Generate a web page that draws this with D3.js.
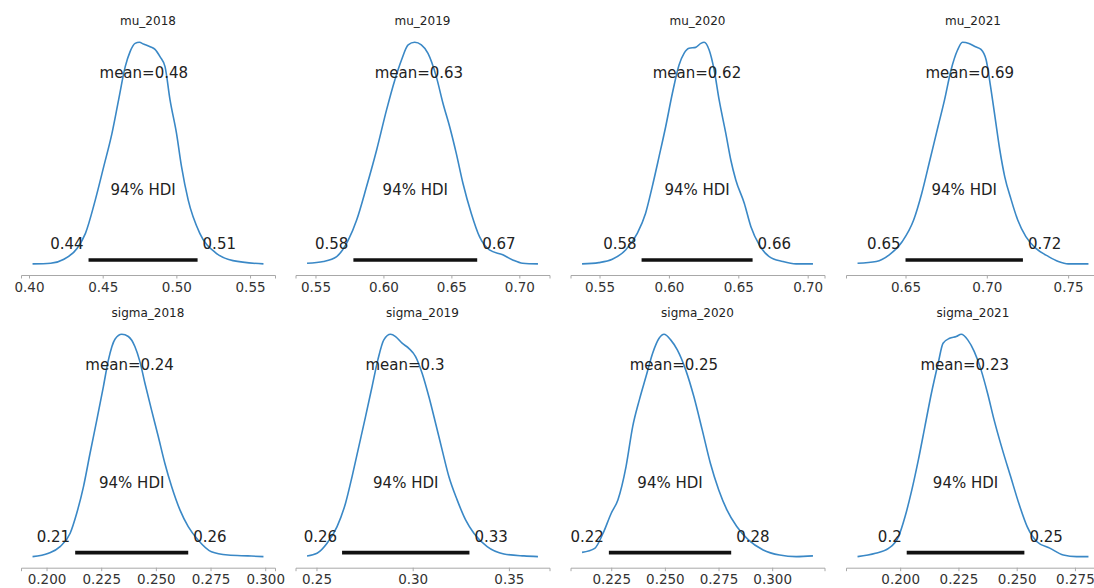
<!DOCTYPE html>
<html><head><meta charset="utf-8">
<script src="https://cdn.jsdelivr.net/npm/d3@7"></script>
<style>
html,body{margin:0;padding:0;background:#fff;}
svg{display:block;font-family:"DejaVu Sans",sans-serif;}
</style></head>
<body><svg id="chart" width="1094" height="588"></svg>
<script>
// ---- data ----
const titles = ["mu_2018","mu_2019","mu_2020","mu_2021","sigma_2018","sigma_2019","sigma_2020","sigma_2021"];
const meanLabels = ["mean=0.48","mean=0.63","mean=0.62","mean=0.69","mean=0.24","mean=0.3","mean=0.25","mean=0.23"];
const meanValues = [0.4779,0.6261,0.6202,0.6895,0.2380,0.2960,0.2542,0.2277];
const hdiLow  = [0.4404,0.5779,0.5803,0.6500,0.2131,0.2633,0.2239,0.2028];
const hdiHigh = [0.5144,0.6690,0.6603,0.7222,0.2648,0.3295,0.2809,0.2533];
const hdiLowLabels  = ["0.44","0.58","0.58","0.65","0.21","0.26","0.22","0.2"];
const hdiHighLabels = ["0.51","0.67","0.66","0.72","0.26","0.33","0.28","0.25"];
const tickValues = [
  [0.40,0.45,0.50,0.55],
  [0.55,0.60,0.65,0.70],
  [0.55,0.60,0.65,0.70],
  [0.65,0.70,0.75],
  [0.200,0.225,0.250,0.275,0.300],
  [0.25,0.30,0.35],
  [0.225,0.250,0.275,0.300],
  [0.200,0.225,0.250,0.275]
];
const tickLabels = [
  ["0.40","0.45","0.50","0.55"],
  ["0.55","0.60","0.65","0.70"],
  ["0.55","0.60","0.65","0.70"],
  ["0.65","0.70","0.75"],
  ["0.200","0.225","0.250","0.275","0.300"],
  ["0.25","0.30","0.35"],
  ["0.225","0.250","0.275","0.300"],
  ["0.200","0.225","0.250","0.275"]
];
// posterior density curves: [value, density relative to peak]
const kdeMu2018 = [[0.4024,0.0],[0.4147,0.003],[0.4237,0.021],[0.4327,0.071],[0.4383,0.138],[0.4450,0.289],[0.4507,0.439],[0.4563,0.589],[0.4608,0.740],[0.4653,0.890],[0.4686,0.958],[0.4720,0.995],[0.4749,1.0],[0.4777,0.992],[0.4822,0.980],[0.4855,0.968],[0.4889,0.935],[0.4923,0.890],[0.4957,0.740],[0.5001,0.589],[0.5035,0.439],[0.5080,0.289],[0.5159,0.138],[0.5271,0.048],[0.5384,0.015],[0.5591,0.0]];
const kdeMu2019 = [[0.5438,0.003],[0.5559,0.011],[0.5656,0.033],[0.5742,0.108],[0.5803,0.198],[0.5876,0.349],[0.5950,0.514],[0.6023,0.695],[0.6084,0.830],[0.6133,0.920],[0.6182,0.988],[0.6230,1.0],[0.6279,0.988],[0.6328,0.950],[0.6389,0.845],[0.6438,0.725],[0.6487,0.620],[0.6536,0.499],[0.6585,0.364],[0.6646,0.229],[0.6707,0.123],[0.6780,0.063],[0.6878,0.041],[0.6951,0.018],[0.7024,0.003],[0.7137,0.0]];
const kdeMu2020 = [[0.5374,0.0],[0.5495,0.006],[0.5592,0.021],[0.5688,0.063],[0.5772,0.138],[0.5832,0.229],[0.5880,0.349],[0.5929,0.484],[0.5977,0.620],[0.6025,0.770],[0.6073,0.898],[0.6109,0.950],[0.6145,0.973],[0.6193,0.977],[0.6230,0.995],[0.6254,1.0],[0.6290,0.965],[0.6326,0.875],[0.6362,0.740],[0.6410,0.589],[0.6446,0.469],[0.6482,0.379],[0.6543,0.274],[0.6591,0.168],[0.6651,0.086],[0.6723,0.033],[0.6820,0.011],[0.6916,0.0],[0.7038,0.0]];
const kdeMu2021 = [[0.6205,0.003],[0.632,0.011],[0.640,0.041],[0.648,0.101],[0.655,0.198],[0.660,0.319],[0.665,0.469],[0.670,0.620],[0.674,0.740],[0.678,0.875],[0.682,0.965],[0.685,1.0],[0.689,0.995],[0.693,0.980],[0.6964,0.968],[0.6996,0.920],[0.702,0.815],[0.705,0.665],[0.708,0.514],[0.711,0.394],[0.715,0.289],[0.719,0.198],[0.724,0.123],[0.730,0.071],[0.738,0.033],[0.744,0.011],[0.750,0.0],[0.7625,0.0]];
const kdeSigma2018 = [[0.1936,0.0],[0.2009,0.015],[0.2062,0.045],[0.2108,0.105],[0.2138,0.195],[0.2169,0.315],[0.2199,0.465],[0.2230,0.615],[0.2260,0.765],[0.2283,0.885],[0.2313,0.978],[0.2344,1.0],[0.2374,0.990],[0.2404,0.945],[0.2427,0.877],[0.2450,0.780],[0.2480,0.660],[0.2511,0.540],[0.2541,0.420],[0.2572,0.315],[0.2610,0.210],[0.2648,0.135],[0.2693,0.075],[0.2754,0.022],[0.2830,0.007],[0.2921,0.003],[0.2992,0.0]];
const kdeSigma2019 = [[0.2451,0.003],[0.2503,0.015],[0.2555,0.060],[0.2607,0.135],[0.2651,0.240],[0.2685,0.360],[0.2720,0.495],[0.2755,0.630],[0.2789,0.765],[0.2819,0.885],[0.2850,0.975],[0.2885,1.0],[0.2911,0.990],[0.2945,0.960],[0.2980,0.937],[0.3015,0.900],[0.3049,0.825],[0.3084,0.720],[0.3119,0.600],[0.3153,0.480],[0.3188,0.360],[0.3231,0.255],[0.3275,0.165],[0.3318,0.105],[0.3387,0.045],[0.3474,0.012],[0.3578,0.003],[0.3651,0.0]];
const kdeSigma2020 = [[0.2114,0.019],[0.2173,0.037],[0.2212,0.105],[0.2250,0.195],[0.2281,0.255],[0.2319,0.405],[0.2350,0.585],[0.2381,0.705],[0.2412,0.810],[0.2443,0.915],[0.2473,0.982],[0.2496,1.0],[0.2527,0.975],[0.2558,0.930],[0.2597,0.840],[0.2635,0.720],[0.2674,0.570],[0.2712,0.420],[0.2751,0.300],[0.2789,0.210],[0.2835,0.135],[0.2889,0.075],[0.2958,0.030],[0.3035,0.007],[0.3112,0.0],[0.3190,0.003]];
const kdeSigma2021 = [[0.1817,0.0],[0.1894,0.015],[0.1950,0.037],[0.1993,0.090],[0.2021,0.180],[0.2050,0.300],[0.2078,0.435],[0.2106,0.585],[0.2134,0.735],[0.2163,0.870],[0.2184,0.960],[0.2212,0.982],[0.2241,0.990],[0.2262,1.0],[0.2290,0.975],[0.2318,0.922],[0.2347,0.840],[0.2375,0.735],[0.2403,0.615],[0.2439,0.480],[0.2474,0.360],[0.2509,0.240],[0.2545,0.135],[0.2587,0.067],[0.2644,0.037],[0.2700,0.007],[0.2757,0.0],[0.2808,0.0]];
const curves = [kdeMu2018,kdeMu2019,kdeMu2020,kdeMu2021,kdeSigma2018,kdeSigma2019,kdeSigma2020,kdeSigma2021];

// ---- layout ----
const colLeft = [21, 295.5, 570.5, 846];
const axW = 254;
const rowTop = [31.2, 323.2];
const rowBottom = [275, 567.7];
const blue = "#3a88c6";
const textCol = "#222";

const svg = d3.select("#chart");

titles.forEach((title, i) => {
  const col = i % 4, row = Math.floor(i / 4);
  const left = colLeft[col], right = left + axW;
  const top = rowTop[row], bottom = rowBottom[row];
  const data = curves[i];
  const ext = d3.extent(data, d => d[0]);
  const pad = (ext[1] - ext[0]) * 0.05;
  const x = d3.scaleLinear().domain([ext[0] - pad, ext[1] + pad]).range([left, right]);
  const y = d3.scaleLinear().domain([-0.05, 1.05]).range([bottom, top]);
  const g = svg.append("g");

  // x axis
  const axis = d3.axisBottom(x).tickValues(tickValues[i])
    .tickFormat((d, k) => tickLabels[i][k]).tickSize(3.5).tickPadding(3.5);
  const ag = g.append("g").attr("transform", `translate(0,${bottom})`).call(axis);
  ag.attr("font-size", null).attr("font-family", null);
  ag.select(".domain").attr("stroke", "#a8a8a8").attr("stroke-width", 1);
  ag.selectAll(".tick line").attr("stroke", "#a8a8a8");
  ag.selectAll(".tick text").attr("fill", "#333")
    .style("font-size", "13.5px").style("font-family", "'DejaVu Sans', sans-serif");

  // title
  g.append("text").attr("x", (left + right) / 2).attr("y", top - 10.5)
    .attr("text-anchor", "middle").attr("dominant-baseline", "central")
    .style("font-size", "12px").attr("fill", textCol).text(title);

  // density curve
  const line = d3.line().x(d => x(d[0])).y(d => y(d[1])).curve(d3.curveMonotoneX);
  g.append("path").datum(data).attr("d", line)
    .attr("fill", "none").attr("stroke", blue).attr("stroke-width", 1.6);

  // HDI bar
  g.append("line").attr("x1", x(hdiLow[i])).attr("x2", x(hdiHigh[i]))
    .attr("y1", y(0.018)).attr("y2", y(0.018))
    .attr("stroke", "#111").attr("stroke-width", 3.6);

  // HDI labels
  g.append("text").attr("x", x(hdiLow[i]) - 5).attr("y", y(0.09))
    .attr("text-anchor", "end").attr("dominant-baseline", "central")
    .style("font-size", "15px").attr("fill", textCol).text(hdiLowLabels[i]);
  g.append("text").attr("x", x(hdiHigh[i]) + 5).attr("y", y(0.09))
    .attr("text-anchor", "start").attr("dominant-baseline", "central")
    .style("font-size", "15px").attr("fill", textCol).text(hdiHighLabels[i]);
  g.append("text").attr("x", (x(hdiLow[i]) + x(hdiHigh[i])) / 2).attr("y", y(0.333))
    .attr("text-anchor", "middle").attr("dominant-baseline", "central")
    .style("font-size", "15px").attr("fill", textCol).text("94% HDI");

  // mean label
  g.append("text").attr("x", x(meanValues[i])).attr("y", y(0.86))
    .attr("text-anchor", "middle").attr("dominant-baseline", "central")
    .style("font-size", "15px").attr("fill", textCol).text(meanLabels[i]);
});
</script>
</body></html>
